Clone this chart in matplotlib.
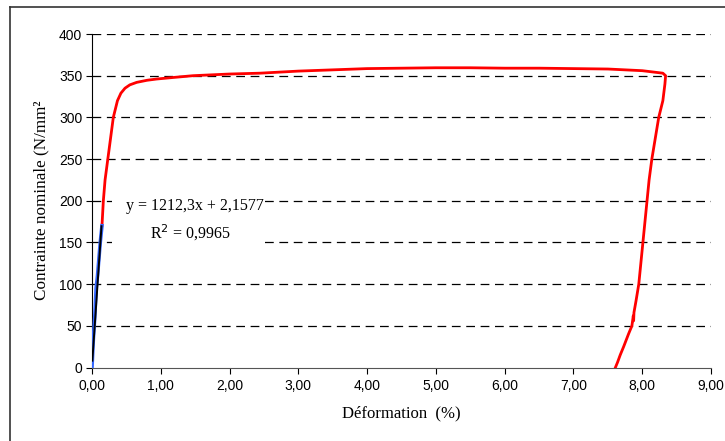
import matplotlib
matplotlib.use("Agg")
import matplotlib.pyplot as plt
from matplotlib.lines import Line2D

# Data (strain %, stress N/mm²)
red_x = [0.145, 0.155, 0.165, 0.19, 0.23, 0.27, 0.31, 0.37, 0.42, 0.48, 0.55, 0.65, 0.80, 0.94, 1.20, 1.47,
         2.00, 2.44, 3.00, 3.50, 4.00, 4.50, 5.00, 5.50, 6.00, 6.50, 7.00, 7.50, 8.00, 8.20, 8.30, 8.34,
         8.33, 8.30, 8.27, 8.24, 8.19, 8.14, 8.10, 8.07, 8.04, 8.01, 7.98, 7.95, 7.91, 7.88, 7.875, 7.87,
         7.85, 7.80, 7.73, 7.68, 7.64, 7.61]
red_y = [170, 185, 200, 225, 250, 275, 300, 320, 329, 335, 339, 342, 344.5, 346, 348, 350,
         352, 353, 355.5, 357, 358.5, 359, 359.5, 359.5, 359, 359, 358.5, 358, 356, 354, 353, 350,
         340, 320, 310, 300, 275, 250, 225, 200, 175, 150, 125, 100, 80, 66, 56, 62,
         50, 40, 25, 15, 6, 0]
blue_x = [0.0, 0.02, 0.04, 0.06, 0.08, 0.10, 0.12, 0.145]
blue_y = [0, 35, 60, 95, 110, 130, 150, 170]
fit_slope = 1212.3
fit_intercept = 2.1577
fit_x = [0.005, 0.138]

x_ticks = [0, 1, 2, 3, 4, 5, 6, 7, 8, 9]
x_labels = ["0,00", "1,00", "2,00", "3,00", "4,00", "5,00", "6,00", "7,00", "8,00", "9,00"]
y_ticks = [0, 50, 100, 150, 200, 250, 300, 350, 400]

W, H = 725, 441
fig = plt.figure(figsize=(W / 100, H / 100), dpi=100)
fig.patch.set_facecolor("white")

# figure border (top and left visible)
fig.add_artist(Line2D([10 / W, 10 / W], [0, 1 - 7 / H], color="#333333", lw=1.2, transform=fig.transFigure))
fig.add_artist(Line2D([10 / W, 1], [1 - 7 / H, 1 - 7 / H], color="#333333", lw=1.2, transform=fig.transFigure))

ax = fig.add_axes([92 / W, (H - 367.5) / H, (711 - 92) / W, (367.5 - 34) / H])
ax.set_xlim(0, 9)
ax.set_ylim(0, 400)

for yv in y_ticks[1:]:
    ax.axhline(yv, color="black", lw=0.9, ls=(0, (7, 4.5)), zorder=1)

ax.plot(red_x, red_y, color="#ff0000", lw=2.0, zorder=3)
ax.plot(blue_x, blue_y, color="#3366ff", lw=2.6, zorder=3)
fit_y = [fit_slope * v + fit_intercept for v in fit_x]
ax.plot(fit_x, fit_y, color="black", lw=1.4, zorder=4)

ax.spines["top"].set_visible(False)
ax.spines["right"].set_visible(False)
ax.spines["left"].set_color("black")
ax.spines["bottom"].set_color("#555555")
ax.set_xticks(x_ticks)
ax.set_xticklabels(x_labels)
ax.set_yticks(y_ticks)
ax.tick_params(axis="both", direction="out", length=4, width=0.8, labelsize=10,
               colors="black")
ax.tick_params(axis="x", pad=4)
ax.tick_params(axis="y", pad=3)
for lab in ax.get_xticklabels() + ax.get_yticklabels():
    lab.set_fontfamily("Liberation Sans")

ax.set_xlabel("Déformation  (%)", fontfamily="Liberation Serif", fontsize=12, labelpad=9)
ax.set_ylabel("Contrainte nominale (N/mm²", fontfamily="Liberation Serif", fontsize=12.3, labelpad=7)

# white patch covering grid behind annotation
ax.fill_between([0.29, 2.52], 143, 212, color="white", zorder=2, lw=0)
ax.text(0.494, 194, "y = 1212,3x + 2,1577", fontfamily="Liberation Serif",
        fontsize=11.5, ha="left", va="center", zorder=5)
ax.text(1.425, 161, "R$^{2}$ = 0,9965", fontfamily="Liberation Serif", fontsize=11.5, ha="center",
        va="center", zorder=5)

fig.savefig("out.png", dpi=100)
